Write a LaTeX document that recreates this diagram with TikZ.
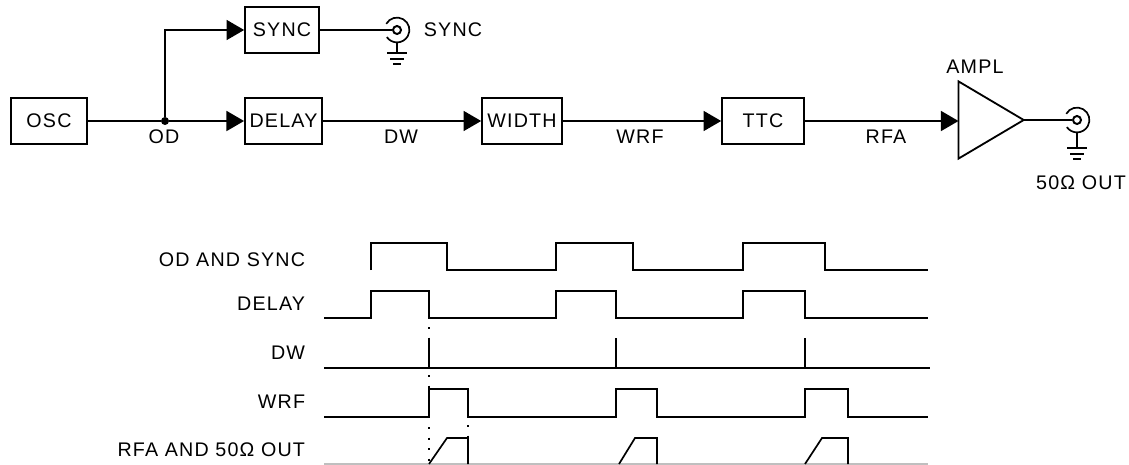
\documentclass[tikz,border=0pt]{standalone}
\usepackage{fontspec}
\setmainfont[LetterSpace=6]{Liberation Sans}
\usetikzlibrary{arrows.meta}
\usetikzlibrary{shapes.geometric}
\tikzset{
	every node/.style={font=\fontsize{14}{16}\selectfont},
	block/.style={draw,line width=1.2pt,rectangle,minimum height=1.14cm,inner sep=0pt},
	wire/.style={line width=1.2pt},
	feed/.style={line width=1.2pt,-{Triangle[length=4.4mm,width=5mm]}},
	wave/.style={line width=1.2pt},
	trace/.style={line width=1.2pt,dash pattern=on 1.5pt off 6pt},
	pics/bnc/.style={code={
		\node [circle,draw,line width=1.4pt,inner sep=0pt,minimum size=2mm] (-dot) at (0,0) {};
		\draw [line width=1.2pt] ([shift={(150:3.1mm)}]0,0) arc [start angle=150,end angle=-145,radius=3.1mm];
		\draw [line width=1.2pt] (0,12) -- (0,#1);
		\draw [line width=1.2pt] (-10,#1) -- (10,#1);
		\draw [line width=1.2pt] (-7,#1+6) -- (7,#1+6);
		\draw [line width=1.4pt] (-4,#1+11) -- (4,#1+11);
	}}
}

\begin{document}
\begin{tikzpicture}[x=0.025cm,y=-0.025cm]
	\useasboundingbox (0,0) rectangle (1129,465);
	% block diagram
	\node [block,minimum width=1.9cm] (osc) at (49,121) {OSC};
	\node [block,minimum width=1.85cm] (syncbox) at (282,30) {SYNC};
	\node [block,minimum width=1.93cm] (delay) at (283.5,121) {DELAY};
	\node [block,minimum width=2cm] (width) at (522,121) {WIDTH};
	\node [block,minimum width=2.05cm] (ttc) at (763,121) {TTC};
	\node [draw,line width=1.3pt,outer sep=0pt,isosceles triangle,isosceles triangle stretches,shape border rotate=0,minimum width=1.93cm,minimum height=1.63cm,inner sep=0pt] (ampl) at (980.5,120) {};
	\node (ampllabel) at (975,67) {AMPL};
	\pic (syncout) at (397,30) {bnc=23};
	\pic (rfout) at (1077,120) {bnc=28};
	\coordinate (branch) at (165,121);
	\node [circle,fill,inner sep=0pt,minimum size=2mm] (junction) at (branch) {};
	\draw [wire] (osc) -- (junction);
	\draw [feed] (junction) -- (delay);
	\draw [feed] (junction) |- (syncbox);
	\draw [wire] (syncbox) -- (syncout-dot);
	\draw [feed] (delay) -- (width);
	\draw [feed] (width) -- (ttc);
	\draw [feed] (ttc) -- (ttc -| ampl.lower side);
	\draw [wire] (ampl.apex) -- (rfout-dot);
	\node (odlabel) at (164,137) {OD};
	\node (dwlabel) at (401,137) {DW};
	\node (wrflabel) at (640,137) {WRF};
	\node (rfalabel) at (886,137) {RFA};
	\node (synclabel) at (453,30) {SYNC};
	\node (outlabel) at (1081,183) {50Ω OUT};
	% timing
	\node [anchor=east] (tod) at (310,260) {OD AND SYNC};
	\node [anchor=east] (tdelay) at (310,304) {DELAY};
	\node [anchor=east] (tdw) at (310,353) {DW};
	\node [anchor=east] (twrf) at (310,402) {WRF};
	\node [anchor=east] (trfa) at (310,450) {RFA AND 50Ω OUT};
	\draw [wave] (371,270) -- (371,243) -- (447,243) -- (447,270) -- (556,270) -- (556,243) -- (633,243) -- (633,270) -- (743,270) -- (743,243) -- (825,243) -- (825,270) -- (928,270);
	\draw [wave] (324,318) -- (371,318) -- (371,291) -- (429,291) -- (429,318) -- (556,318) -- (556,291) -- (616,291) -- (616,318) -- (743,318) -- (743,291) -- (805,291) -- (805,318) -- (928,318);
	\draw [wave] (324,368) -- (930,368);
	\draw [wave] (429,368) -- (429,338);
	\draw [wave] (616,368) -- (616,338);
	\draw [wave] (805,368) -- (805,338);
	\draw [wave] (324,417) -- (429,417) -- (429,389) -- (468,389) -- (468,417) -- (616,417) -- (616,389) -- (657,389) -- (657,417) -- (805,417) -- (805,389) -- (848,389) -- (848,417) -- (928,417);
	\draw [line width=0.8pt,gray!50] (324,464) -- (928,464);
	\draw [wave] (429,464) -- (447,438) -- (468,438) -- (468,464);
	\draw [wave] (619,464) -- (635,438) -- (657,438) -- (657,464);
	\draw [wave] (805,464) -- (822,438) -- (848,438) -- (848,464);
	\draw [trace] (429,327) -- (429,338);
	\draw [trace] (429,375) -- (429,388);
	\draw [trace] (429,427) -- (429,464);
	\draw [trace] (468,425) -- (468,438);
\end{tikzpicture}
\end{document}
